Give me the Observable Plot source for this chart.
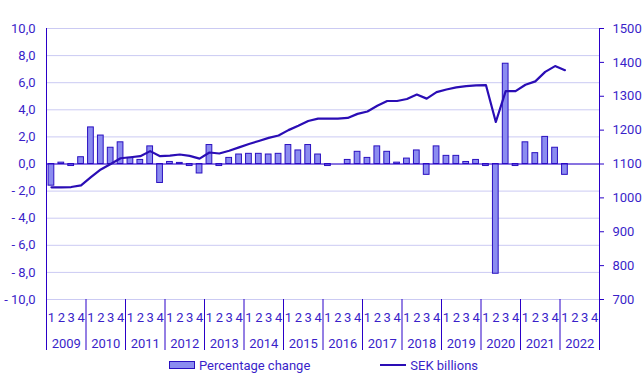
<!DOCTYPE html>
<html>
<head>
<meta charset="utf-8">
<script src="https://cdn.jsdelivr.net/npm/d3@7"></script>
<script src="https://cdn.jsdelivr.net/npm/@observablehq/plot@0.6"></script>
<style>
  html, body { margin: 0; padding: 0; background: #fff; }
  body { width: 643px; height: 385px; overflow: hidden; font-family: Roboto, "Noto Sans", sans-serif; }
  #legend { display: flex; justify-content: center; align-items: center; gap: 70px; margin-top: 5px; height: 16px;
            font-size: 13px; color: #3a1fc9; padding-left: 4px; }
  .item { display: flex; align-items: center; gap: 4px; }
  .sw-bar { width: 24px; height: 6px; background: #8b8cf0; border: 1px solid #2a10c0; }
  .sw-line { width: 26px; height: 2.5px; background: #2a0db5; }
</style>
</head>
<body>
<div id="chart"></div>
<div id="legend">
  <div class="item"><div class="sw-bar"></div><span>Percentage change</span></div>
  <div class="item"><div class="sw-line"></div><span>SEK billions</span></div>
</div>
<script>
const years = [2009, 2010, 2011, 2012, 2013, 2014, 2015, 2016, 2017, 2018, 2019, 2020, 2021, 2022];
const quarters = ["1", "2", "3", "4"];
const leftTicks = [-10, -8, -6, -4, -2, 0, 2, 4, 6, 8, 10];
const rightTicks = [700, 800, 900, 1000, 1100, 1200, 1300, 1400, 1500];

// Percentage change, 2009 Q1 – 2022 Q1
const pctChange = [
  -1.6, 0.1, -0.15, 0.5,
  2.7, 2.1, 1.2, 1.6,
  0.45, 0.3, 1.3, -1.4,
  0.15, 0.08, -0.15, -0.7,
  1.4, -0.15, 0.45, 0.7,
  0.75, 0.75, 0.7, 0.75,
  1.4, 1.0, 1.4, 0.7,
  -0.15, 0.0, 0.3, 0.9,
  0.45, 1.3, 0.9, 0.1,
  0.4, 1.0, -0.8, 1.3,
  0.6, 0.6, 0.15, 0.3,
  -0.15, -8.1, 7.4, -0.15,
  1.6, 0.8, 2.0, 1.2,
  -0.8
];
// SEK billions, 2009 Q1 – 2022 Q1
const sekBillions = [
  1031, 1031, 1032, 1037,
  1061, 1084, 1100, 1117,
  1120, 1123, 1138, 1123,
  1125, 1128, 1124, 1116,
  1134, 1131, 1139, 1149,
  1159, 1168, 1177, 1184,
  1200, 1213, 1227, 1234,
  1234, 1234, 1236, 1248,
  1255, 1272, 1286, 1286,
  1292, 1305, 1293, 1312,
  1320, 1326, 1330, 1332,
  1333, 1224, 1315, 1315,
  1334, 1344, 1372, 1389,
  1377
];

const TEXT = "#3a1fc9";
const AXIS = "#2a00c8";
const GRID = "#cbcaf3";
const BARFILL = "#8b8cf0";
const BARSTROKE = "#2a10c0";
const LINE = "#2a0db5";

const nQ = years.length * 4;
const rows = pctChange.map((p, i) => ({t: i, pct: p, sek: sekBillions[i]}));
const toLeft = v => (v - 1100) / 40;
const fromLeft = d => String(Math.round(d * 40 + 1100));
const fmtLeft = d => (d < 0 ? "- " : "") + Math.abs(d).toFixed(1).replace(".", ",");

const chart = Plot.plot({
  width: 643,
  height: 352,
  marginTop: 28,
  marginBottom: 53,
  marginLeft: 46,
  marginRight: 44,
  style: {fontFamily: "Roboto, 'Noto Sans', sans-serif", fontSize: "13px", color: TEXT, background: "white"},
  x: {type: "linear", domain: [-0.5, nQ - 0.5], axis: null},
  y: {domain: [-10, 10], axis: null},
  marks: [
    Plot.gridY(leftTicks, {stroke: GRID, strokeOpacity: 1}),
    Plot.rectY(rows, {x1: d => d.t - 0.29, x2: d => d.t + 0.29, y1: 0, y2: "pct", fill: BARFILL, stroke: BARSTROKE, strokeWidth: 1}),
    Plot.ruleY([0], {stroke: AXIS}),
    Plot.lineY(rows, {x: "t", y: d => toLeft(d.sek), stroke: LINE, strokeWidth: 2.2, strokeLinejoin: "round"}),
    Plot.ruleX([-0.5, nQ - 0.5], {stroke: AXIS}),
    Plot.axisY({anchor: "left", ticks: leftTicks, tickFormat: fmtLeft, tickSize: 0, tickPadding: 11, label: null}),
    Plot.axisY({anchor: "right", ticks: rightTicks.map(toLeft), tickFormat: fromLeft, tickSize: 4, tickPadding: 9, stroke: AXIS, label: null, textAnchor: "start"}),
    Plot.axisX({ticks: d3.range(0, nQ), tickFormat: i => quarters[i % 4], tickSize: 0, tickPadding: 13, label: null}),
    Plot.axisX({ticks: years.map((y, k) => k * 4 + 1.5), tickFormat: t => String(years[Math.floor(t / 4)]), tickSize: 0, tickPadding: 39, label: null}),
    Plot.axisX({ticks: d3.range(0, years.length + 1).map(k => k * 4 - 0.5), tickFormat: () => "", tickSize: 51, stroke: AXIS, label: null})
  ]
});
document.getElementById("chart").appendChild(chart);
</script>
</body>
</html>
